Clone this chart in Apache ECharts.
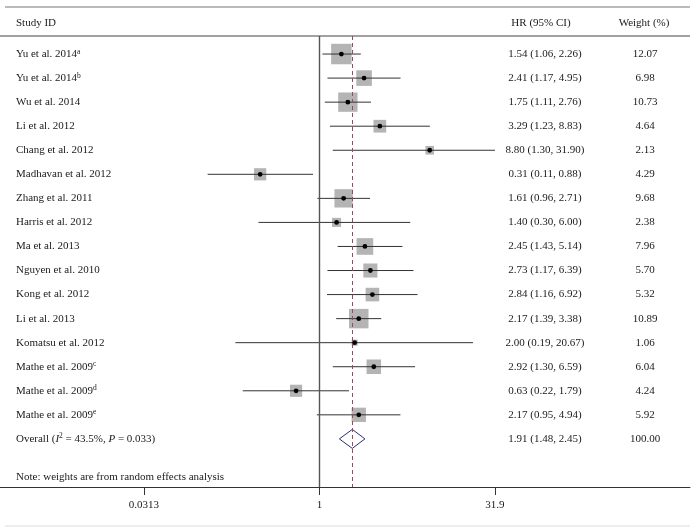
<!DOCTYPE html>
<html><head><meta charset="utf-8">
<script src="https://cdn.jsdelivr.net/npm/echarts@6/dist/echarts.min.js"></script>
<style>html,body{margin:0;padding:0;background:#fff}#c{width:698px;height:532px}</style>
</head><body><div id="c"></div>
<script>
const studies = ['Yu et al. 2014{sup|a}','Yu et al. 2014{sup|b}','Wu et al. 2014','Li et al. 2012','Chang et al. 2012','Madhavan et al. 2012','Zhang et al. 2011','Harris et al. 2012','Ma et al. 2013','Nguyen et al. 2010','Kong et al. 2012','Li et al. 2013','Komatsu et al. 2012','Mathe et al. 2009{sup|c}','Mathe et al. 2009{sup|d}','Mathe et al. 2009{sup|e}'];
const hr     = [1.54,2.41,1.75,3.29,8.80,0.31,1.61,1.40,2.45,2.73,2.84,2.17,2.00,2.92,0.63,2.17];
const lower  = [1.06,1.17,1.11,1.23,1.30,0.11,0.96,0.30,1.43,1.17,1.16,1.39,0.19,1.30,0.22,0.95];
const upper  = [2.26,4.95,2.76,8.83,31.90,0.88,2.71,6.00,5.14,6.39,6.92,3.38,20.67,6.59,1.79,4.94];
const weights= [12.07,6.98,10.73,4.64,2.13,4.29,9.68,2.38,7.96,5.70,5.32,10.89,1.06,6.04,4.24,5.92];
const overallLabel = 'Overall ({i|I}{sup|2} = 43.5%, {i|P} = 0.033)';
const overall = {hr:1.91, lower:1.48, upper:2.45, weight:100.00};
const tickValues = [0.0313, 1, 31.9];
const noteText = 'Note: weights are from random effects analysis';

const FONT = 'Liberation Serif';
const FS = 11;
const TXT = '#1a1a1a';
const rich = {
  sup:{fontFamily:FONT,fontSize:7.5,color:TXT,verticalAlign:'top',padding:[0,0,5,0]},
  i:{fontFamily:FONT,fontSize:FS,fontStyle:'italic',color:TXT}
};
const f2 = v => v.toFixed(2);

const rows = studies.map((s,i)=>[hr[i],i,lower[i],upper[i],weights[i]]);
const rowsAll = rows.concat([[overall.hr,studies.length,overall.lower,overall.upper,overall.weight]]);
const labelsAll = studies.concat([overallLabel]);

const PX_DEC = 116.68, NULL_PX = 319.5, GL = 0, GR = 690;
const xmin = Math.pow(10,(GL-NULL_PX)/PX_DEC), xmax = Math.pow(10,(GR-NULL_PX)/PX_DEC);

const chart = echarts.init(document.getElementById('c'),null,{renderer:'canvas'});
chart.setOption({
  animation:false,
  grid:{left:GL,right:698-GR,top:36,bottom:45,containLabel:false},
  xAxis:{type:'log',min:xmin,max:xmax,position:'bottom',
    axisLine:{onZero:false,lineStyle:{color:'#333',width:1}},
    axisTick:{show:true,length:8,lineStyle:{color:'#333'},customValues:tickValues},
    axisLabel:{fontFamily:FONT,fontSize:FS,color:TXT,margin:13,customValues:tickValues,formatter:v=>String(v)},
    splitLine:{show:false},minorTick:{show:false}},
  yAxis:{type:'value',inverse:true,min:-0.75,max:18,show:false},
  series:[
    {type:'custom',data:rows,clip:false,z:3,
     renderItem:(params,api)=>{
       const y = api.coord([1,api.value(1)])[1];
       const x0 = api.coord([api.value(2),0])[0], x1 = api.coord([api.value(3),0])[0];
       const xc = api.coord([api.value(0),0])[0];
       const s = 5.9*Math.sqrt(api.value(4));
       return {type:'group',children:[
         {type:'rect',shape:{x:xc-s/2,y:y-s/2,width:s,height:s},style:{fill:'#b4b4b4'},z2:1},
         {type:'line',shape:{x1:x0,y1:y,x2:x1,y2:y},style:{stroke:'#333',lineWidth:1},z2:2},
         {type:'circle',shape:{cx:xc,cy:y,r:2.4},style:{fill:'#000'},z2:3}
       ]};
     },
     markLine:{silent:true,symbol:'none',label:{show:false},
       data:[{xAxis:1,lineStyle:{color:'#555',width:1.4,type:'solid'}},
             {xAxis:overall.hr,lineStyle:{color:'#9c4a55',width:1,type:[4,3]}}]}
    },
    {type:'custom',data:[[overall.hr,studies.length,overall.lower,overall.upper]],clip:false,z:4,
     renderItem:(params,api)=>{
       const y = api.coord([1,api.value(1)])[1];
       const x0 = api.coord([api.value(2),0])[0], x1 = api.coord([api.value(3),0])[0];
       const xc = api.coord([api.value(0),0])[0];
       const h = 9.5;
       return {type:'polygon',shape:{points:[[x0,y],[xc,y-h],[x1,y],[xc,y+h]]},style:{fill:'rgba(0,0,0,0)',stroke:'#2b2b7a',lineWidth:1}};
     }},
    {type:'custom',data:rowsAll,clip:false,z:5,
     renderItem:(params,api)=>{
       const i = params.dataIndex;
       const y = api.coord([1,api.value(1)])[1];
       const txt = f2(api.value(0))+' ('+f2(api.value(2))+', '+f2(api.value(3))+')';
       return {type:'group',children:[
         {type:'text',style:{x:16,y:y,text:labelsAll[i],rich:rich,font:FS+'px "'+FONT+'"',fill:TXT,verticalAlign:'middle',align:'left'}},
         {type:'text',style:{x:545,y:y,text:txt,font:FS+'px "'+FONT+'"',fill:TXT,verticalAlign:'middle',align:'center'}},
         {type:'text',style:{x:645,y:y,text:f2(api.value(4)),font:FS+'px "'+FONT+'"',fill:TXT,verticalAlign:'middle',align:'center'}}
       ]};
     }}
  ],
  graphic:[
    {type:'line',shape:{x1:5,y1:7,x2:690,y2:7},style:{stroke:'#777',lineWidth:1.2}},
    {type:'line',shape:{x1:0,y1:36,x2:690,y2:36},style:{stroke:'#444',lineWidth:1.2}},
    {type:'line',shape:{x1:5,y1:526,x2:690,y2:526},style:{stroke:'#ddd',lineWidth:1}},
    {type:'text',style:{x:16,y:23,text:'Study ID',font:FS+'px "'+FONT+'"',fill:TXT,verticalAlign:'middle'}},
    {type:'text',style:{x:541,y:23,text:'HR (95% CI)',font:FS+'px "'+FONT+'"',fill:TXT,verticalAlign:'middle',align:'center'}},
    {type:'text',style:{x:644,y:23,text:'Weight (%)',font:FS+'px "'+FONT+'"',fill:TXT,verticalAlign:'middle',align:'center'}},
    {type:'text',style:{x:16,y:477,text:noteText,font:FS+'px "'+FONT+'"',fill:TXT,verticalAlign:'middle'}}
  ]
});
</script></body></html>
